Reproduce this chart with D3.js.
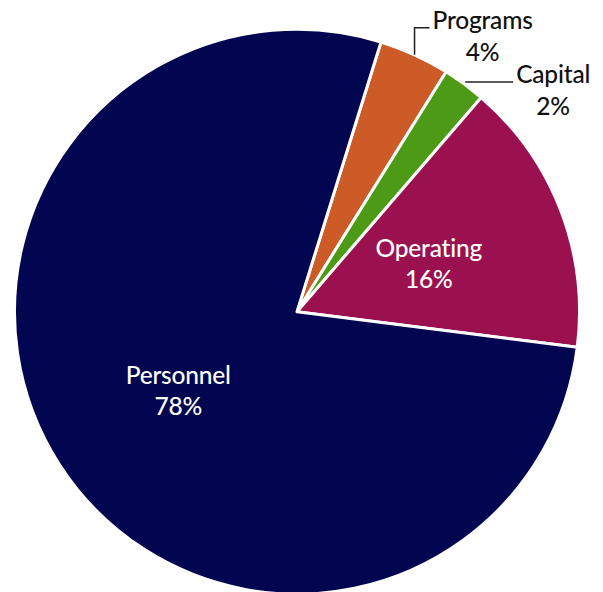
<!DOCTYPE html>
<html>
<head>
<meta charset="utf-8">
<script src="https://cdn.jsdelivr.net/npm/d3@7"></script>
<style>
  html, body { margin: 0; padding: 0; background: #fff; }
  svg { display: block; }
  text { font-family: Lato, "Open Sans", sans-serif; font-weight: 500; letter-spacing: -0.2px; }
</style>
</head>
<body>
<svg id="chart" width="603" height="592"></svg>
<script>
// Data (clockwise from the first slice)
const categories = ["Programs", "Capital", "Operating", "Personnel"];
const values = [4.05, 2.45, 15.7, 77.8];
const pctLabels = ["4%", "2%", "16%", "78%"];
const colors = ["#cd5b27", "#4c9a15", "#9b104e", "#020550"];

const W = 603, H = 592;
const cx = 297, cy = 311.7, R = 282.5;
const startAngle = 17.3 * Math.PI / 180;

const svg = d3.select("#chart");
const g = svg.append("g").attr("transform", `translate(${cx},${cy})`);

const pie = d3.pie().sort(null).value(d => d.value)
  .startAngle(startAngle).endAngle(startAngle + 2 * Math.PI);
const data = categories.map((c, i) => ({ name: c, value: values[i], label: pctLabels[i], color: colors[i] }));
const arcs = pie(data);

const arc = d3.arc().innerRadius(0).outerRadius(R);
const labelArc = d3.arc().innerRadius(0).outerRadius(R * 0.5 * 2); // centroid at 0.5R
const edgeArc = d3.arc().innerRadius(R).outerRadius(R);

g.selectAll("path.slice").data(arcs).enter().append("path")
  .attr("class", "slice")
  .attr("d", arc)
  .attr("fill", d => d.data.color)
  .attr("stroke", "#fff")
  .attr("stroke-width", 3)
  .attr("stroke-linejoin", "round");

const fontSize = 24.5, lineGap = 31;

// Inside labels
arcs.filter(d => d.data.value >= 10).forEach(d => {
  const [x, y] = labelArc.centroid(d);
  const t = g.append("text").attr("text-anchor", "middle").attr("fill", "#fff")
    .attr("font-size", fontSize);
  t.append("tspan").attr("x", x).attr("y", y - 4).text(d.data.name);
  t.append("tspan").attr("x", x).attr("y", y - 4 + lineGap).text(d.data.label);
});

// Outside labels with leader lines
const leaders = { Programs: { up: 27, right: 15 }, Capital: { up: 0, right: 48 } };
arcs.filter(d => d.data.value < 10).forEach(d => {
  let [ex, ey] = edgeArc.centroid(d);
  const L = leaders[d.data.name];
  let pts;
  if (L.up > 0) {
    pts = [[ex, ey], [ex, ey - L.up], [ex + L.right, ey - L.up]];
  } else {
    pts = [[ex + 1, ey - 2], [ex + 1 + L.right, ey - 2]];
  }
  g.append("path").attr("d", d3.line()(pts)).attr("fill", "none")
    .attr("stroke", "#222").attr("stroke-width", 1.5);
  const endX = pts[pts.length - 1][0] + 3, baseY = pts[pts.length - 1][1] + 1;
  const t1 = g.append("text").attr("fill", "#111").attr("font-size", fontSize)
    .attr("x", endX).attr("y", baseY).text(d.data.name);
  const w = t1.node().getComputedTextLength();
  g.append("text").attr("fill", "#111").attr("font-size", fontSize)
    .attr("text-anchor", "middle").attr("x", endX + w / 2).attr("y", baseY + 32)
    .text(d.data.label);
});
</script>
</body>
</html>
